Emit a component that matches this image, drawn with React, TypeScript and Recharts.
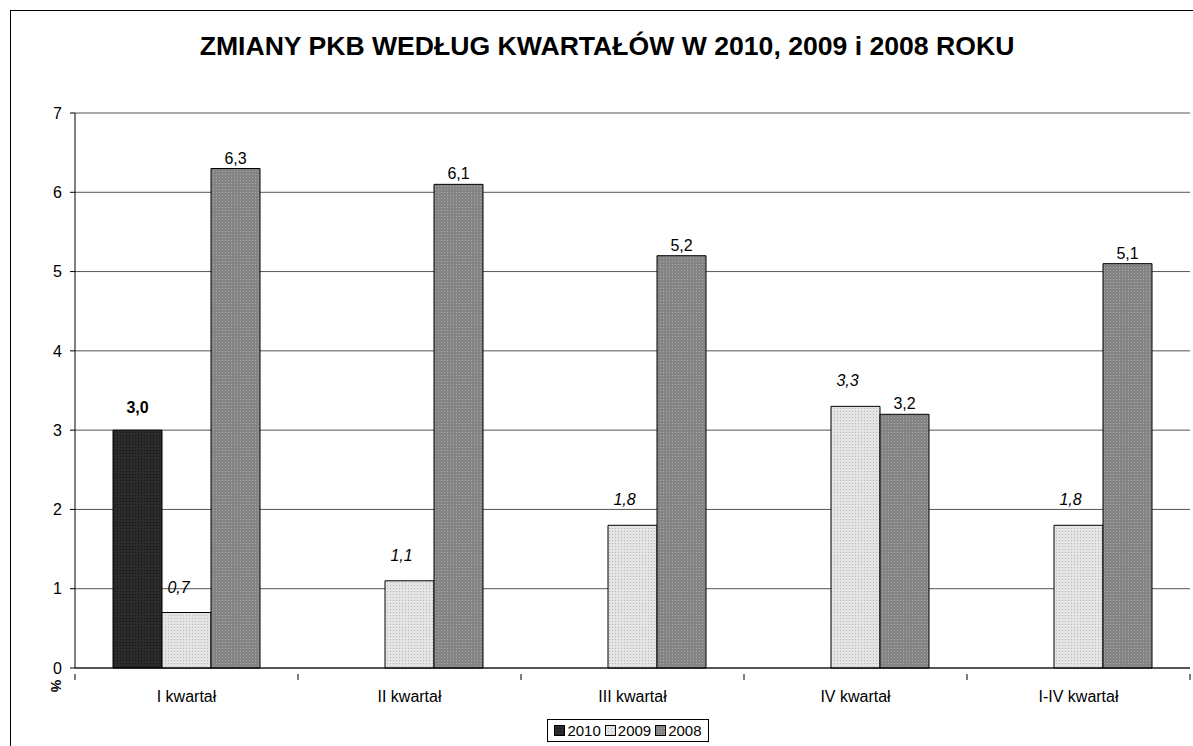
import React from 'react';
import { BarChart, Bar, XAxis, YAxis, CartesianGrid, LabelList } from 'recharts';

const categories = ['I kwartał', 'II kwartał', 'III kwartał', 'IV kwartał', 'I-IV kwartał'];
const values2010: (number | null)[] = [3.0, null, null, null, null];
const values2009: number[] = [0.7, 1.1, 1.8, 3.3, 1.8];
const values2008: number[] = [6.3, 6.1, 5.2, 3.2, 5.1];
const yTicks = [0, 1, 2, 3, 4, 5, 6, 7];
const seriesNames = ['2010', '2009', '2008'];

const data = categories.map((c, i) => ({
  name: c,
  y2010: values2010[i],
  y2009: values2009[i],
  y2008: values2008[i],
}));

const FONT = '"Liberation Sans", Arial, sans-serif';

const fmt = (v: number) => v.toFixed(1).replace('.', ',');

const makeLabel = (style: { fontWeight?: string; fontStyle?: string; offset: number; dx: number }) => (props: any) => {
  const { x, y, width, value } = props;
  if (value === null || value === undefined) return null;
  return (
    <text
      x={Number(x) + Number(width) / 2 + style.dx}
      y={Number(y) - style.offset}
      textAnchor="middle"
      fontFamily={FONT}
      fontSize={16}
      fontWeight={style.fontWeight || 'normal'}
      fontStyle={style.fontStyle || 'normal'}
      fill="#000"
    >
      {fmt(Number(value))}
    </text>
  );
};

const XTick = (props: any) => {
  const { x, y, payload, index } = props;
  const half = 223 / 2;
  return (
    <g>
      <line x1={x - half} y1={y - 2} x2={x - half} y2={y + 4} stroke="#000" />
      {index === categories.length - 1 && (
        <line x1={x + half} y1={y - 2} x2={x + half} y2={y + 4} stroke="#000" />
      )}
      <text x={x} y={y + 26} textAnchor="middle" fontFamily={FONT} fontSize={16} fill="#000">
        {payload.value}
      </text>
    </g>
  );
};

const LegendBox = () => (
  <div
    style={{
      position: 'absolute',
      left: 547,
      top: 719,
      width: 160,
      height: 21,
      border: '1px solid #000',
      background: '#fff',
      display: 'flex',
      alignItems: 'center',
      justifyContent: 'center',
      fontFamily: FONT,
      fontSize: 15,
      color: '#000',
      boxSizing: 'content-box',
    }}
  >
    {seriesNames.map((s, i) => (
      <span key={s} style={{ display: 'flex', alignItems: 'center', marginRight: i < 2 ? 4 : 0 }}>
        <svg width={11} height={11} style={{ marginRight: 2 }}>
          <defs>
            <pattern id={'lp' + i} width={3} height={3} patternUnits="userSpaceOnUse">
              <rect width={3} height={3} fill={['#2b2b2b', '#e4e4e4', '#848484'][i]} />
              <rect width={1} height={1} fill={['#111', '#b8b8b8', '#a8a8a8'][i]} />
            </pattern>
          </defs>
          <rect x={0.5} y={0.5} width={10} height={10} fill={'url(#lp' + i + ')'} stroke="#000" />
        </svg>
        {s}
      </span>
    ))}
  </div>
);

export default function App() {
  return (
    <div style={{ position: 'absolute', left: 0, top: 0, width: 1193, height: 746, background: '#fff', overflow: 'hidden' }}>
      <div
        style={{
          position: 'absolute',
          left: 10,
          top: 10,
          width: 1200,
          height: 800,
          borderLeft: '1px solid #000',
          borderTop: '1px solid #000',
        }}
      />
      <div
        style={{
          position: 'absolute',
          left: 0,
          top: 31,
          width: 1214,
          textAlign: 'center',
          fontFamily: FONT,
          fontWeight: 'bold',
          fontSize: 26.6,
          color: '#000',
          whiteSpace: 'nowrap',
        }}
      >
        ZMIANY PKB WEDŁUG KWARTAŁÓW W 2010, 2009 i 2008 ROKU
      </div>
      <div style={{ position: 'absolute', left: 0, top: 0 }}>
        <BarChart
          width={1193}
          height={746}
          data={data}
          margin={{ top: 113, right: 3, left: 0, bottom: 0 }}
          barCategoryGap={38}
          barGap={0}
        >
          <defs>
            <pattern id="p2010" width={3} height={3} patternUnits="userSpaceOnUse">
              <rect width={3} height={3} fill="#2b2b2b" />
              <rect width={1} height={1} fill="#111" />
            </pattern>
            <pattern id="p2009" width={3} height={3} patternUnits="userSpaceOnUse">
              <rect width={3} height={3} fill="#e4e4e4" />
              <rect width={1} height={1} fill="#b8b8b8" />
            </pattern>
            <pattern id="p2008" width={3} height={3} patternUnits="userSpaceOnUse">
              <rect width={3} height={3} fill="#848484" />
              <rect width={1} height={1} fill="#a8a8a8" />
            </pattern>
          </defs>
          <CartesianGrid yAxisId="left" vertical={false} stroke="#555" strokeWidth={1} />
          <XAxis
            dataKey="name"
            axisLine={{ stroke: '#000' }}
            tickLine={false}
            tick={<XTick />}
            height={78}
            interval={0}
          />
          <YAxis
            yAxisId="left"
            domain={[0, 7]}
            ticks={yTicks}
            width={75}
            axisLine={{ stroke: '#000' }}
            tickLine={{ stroke: '#000' }}
            tickSize={5}
            tick={{ fontFamily: FONT, fontSize: 16, fill: '#000' }}
            tickMargin={8}
            interval={0}
          />
          <YAxis
            yAxisId="right"
            orientation="right"
            domain={[0, 7]}
            width={0}
            tick={false}
            tickLine={false}
            axisLine={{ stroke: '#888', strokeWidth: 2 }}
          />
          <Bar yAxisId="left" dataKey="y2010" name="2010" fill="url(#p2010)" stroke="#000" strokeWidth={1} isAnimationActive={false}>
            <LabelList dataKey="y2010" content={makeLabel({ fontWeight: 'bold', offset: 17, dx: 0 })} />
          </Bar>
          <Bar yAxisId="left" dataKey="y2009" name="2009" fill="url(#p2009)" stroke="#000" strokeWidth={1} isAnimationActive={false}>
            <LabelList dataKey="y2009" content={makeLabel({ fontStyle: 'italic', offset: 20, dx: -8 })} />
          </Bar>
          <Bar yAxisId="left" dataKey="y2008" name="2008" fill="url(#p2008)" stroke="#000" strokeWidth={1} isAnimationActive={false}>
            <LabelList dataKey="y2008" content={makeLabel({ offset: 5, dx: 0 })} />
          </Bar>
        </BarChart>
      </div>
      <div style={{ position: 'absolute', left: 50, top: 678, transform: 'rotate(90deg)', fontFamily: FONT, fontSize: 14, fontWeight: 'bold', color: '#000' }}>
        %
      </div>
      <LegendBox />
    </div>
  );
}
